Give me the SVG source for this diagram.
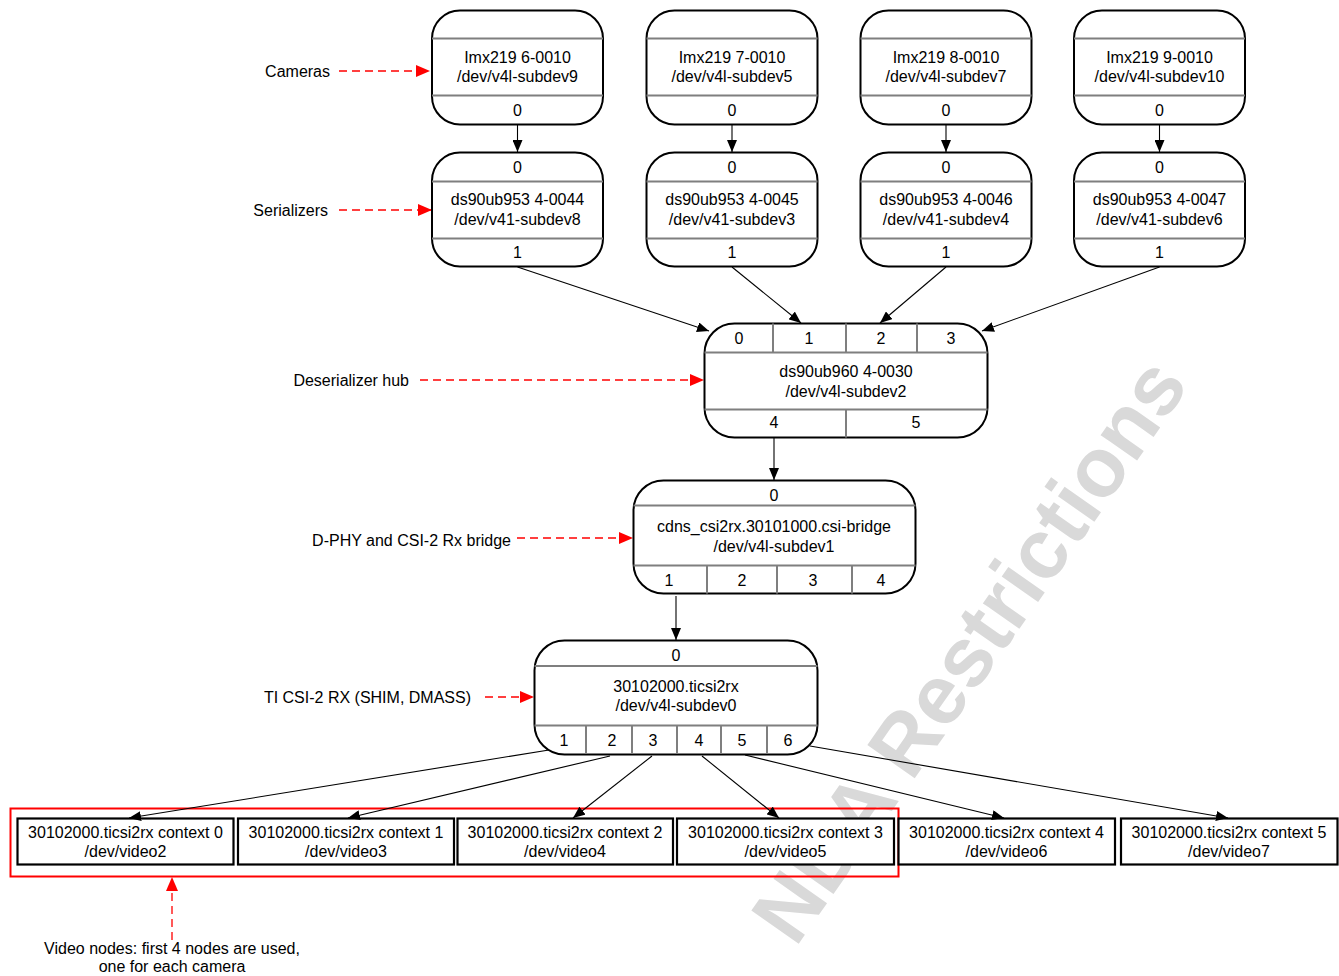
<svg xmlns="http://www.w3.org/2000/svg" width="1339" height="976" viewBox="0 0 1339 976">
<defs>
<style>
text{font-family:"Liberation Sans",Arial,sans-serif;font-size:16px;fill:#000}
.c{text-anchor:middle}
.r{text-anchor:end}
.box{fill:#fff;stroke:#000;stroke-width:2}
.div{stroke:#7f7f7f;stroke-width:2;fill:none}
.vid{fill:#fff;stroke:#000;stroke-width:2.2}
.con{stroke:#000;stroke-width:1.1;fill:none;marker-end:url(#ah)}
.red{stroke:#ff0000;stroke-width:1.3;fill:none;stroke-dasharray:8 5;marker-end:url(#rh)}
text.wm{font-family:"Liberation Sans",Arial,sans-serif;font-weight:bold;font-size:84px;fill:#d9d9d9;text-anchor:end}
</style>
<marker id="ah" viewBox="0 0 12 10" refX="12" refY="5" markerWidth="12" markerHeight="10" orient="auto" markerUnits="userSpaceOnUse"><path d="M0,0L12,5L0,10z" fill="#000"/></marker>
<marker id="rh" viewBox="0 0 14 12" refX="14" refY="6" markerWidth="14" markerHeight="12" orient="auto" markerUnits="userSpaceOnUse"><path d="M0,0L14,6L0,12z" fill="#ff0000"/></marker>
</defs>
<rect width="1339" height="976" fill="#fff"/>
<g id="watermark">
<text class="wm" transform="rotate(-55 1190 385)" x="1190" y="385">NDA Restrictions</text>
</g>

<g id="labels">
<text class="r" x="330" y="76.5">Cameras</text>
<line class="red" x1="339" y1="71" x2="430" y2="71"/>
<text class="r" x="328" y="215.5">Serializers</text>
<line class="red" x1="339" y1="210" x2="432" y2="210"/>
<text class="r" x="409" y="385.5">Deserializer hub</text>
<line class="red" x1="420" y1="380" x2="704" y2="380"/>
<text class="r" x="511" y="545.5">D-PHY and CSI-2 Rx bridge</text>
<line class="red" x1="517" y1="538" x2="633" y2="538"/>
<text class="r" x="471" y="702.5">TI CSI-2 RX (SHIM, DMASS)</text>
<line class="red" x1="485" y1="697" x2="534" y2="697"/>
<rect x="10.5" y="808.5" width="888" height="68" fill="none" stroke="#ff0000" stroke-width="2"/>
<line class="red" x1="172" y1="940" x2="172" y2="877"/>
<text class="c" x="172" y="953.5">Video nodes: first 4 nodes are used,</text>
<text class="c" x="172" y="972">one for each camera</text>
</g>

<g id="cam0">
<rect class="box" x="432" y="10.5" width="171" height="114" rx="28"/>
<path class="div" d="M432 38.5H603M432 95.5H603"/>
<text class="c" x="517.5" y="63">Imx219 6-0010</text>
<text class="c" x="517.5" y="82">/dev/v4l-subdev9</text>
<text class="c" x="517.5" y="115.5">0</text>
</g>
<g id="cam1">
<rect class="box" x="646.5" y="10.5" width="171" height="114" rx="28"/>
<path class="div" d="M646.5 38.5H817.5M646.5 95.5H817.5"/>
<text class="c" x="732" y="63">Imx219 7-0010</text>
<text class="c" x="732" y="82">/dev/v4l-subdev5</text>
<text class="c" x="732" y="115.5">0</text>
</g>
<g id="cam2">
<rect class="box" x="860.5" y="10.5" width="171" height="114" rx="28"/>
<path class="div" d="M860.5 38.5H1031.5M860.5 95.5H1031.5"/>
<text class="c" x="946" y="63">Imx219 8-0010</text>
<text class="c" x="946" y="82">/dev/v4l-subdev7</text>
<text class="c" x="946" y="115.5">0</text>
</g>
<g id="cam3">
<rect class="box" x="1074" y="10.5" width="171" height="114" rx="28"/>
<path class="div" d="M1074 38.5H1245M1074 95.5H1245"/>
<text class="c" x="1159.5" y="63">Imx219 9-0010</text>
<text class="c" x="1159.5" y="82">/dev/v4l-subdev10</text>
<text class="c" x="1159.5" y="115.5">0</text>
</g>

<g id="ser0">
<rect class="box" x="432" y="152.5" width="171" height="114" rx="28"/>
<path class="div" d="M432 181.5H603M432 238.5H603"/>
<text class="c" x="517.5" y="173">0</text>
<text class="c" x="517.5" y="205">ds90ub953 4-0044</text>
<text class="c" x="517.5" y="225">/dev/v41-subdev8</text>
<text class="c" x="517.5" y="257.5">1</text>
</g>
<g id="ser1">
<rect class="box" x="646.5" y="152.5" width="171" height="114" rx="28"/>
<path class="div" d="M646.5 181.5H817.5M646.5 238.5H817.5"/>
<text class="c" x="732" y="173">0</text>
<text class="c" x="732" y="205">ds90ub953 4-0045</text>
<text class="c" x="732" y="225">/dev/v41-subdev3</text>
<text class="c" x="732" y="257.5">1</text>
</g>
<g id="ser2">
<rect class="box" x="860.5" y="152.5" width="171" height="114" rx="28"/>
<path class="div" d="M860.5 181.5H1031.5M860.5 238.5H1031.5"/>
<text class="c" x="946" y="173">0</text>
<text class="c" x="946" y="205">ds90ub953 4-0046</text>
<text class="c" x="946" y="225">/dev/v41-subdev4</text>
<text class="c" x="946" y="257.5">1</text>
</g>
<g id="ser3">
<rect class="box" x="1074" y="152.5" width="171" height="114" rx="28"/>
<path class="div" d="M1074 181.5H1245M1074 238.5H1245"/>
<text class="c" x="1159.5" y="173">0</text>
<text class="c" x="1159.5" y="205">ds90ub953 4-0047</text>
<text class="c" x="1159.5" y="225">/dev/v41-subdev6</text>
<text class="c" x="1159.5" y="257.5">1</text>
</g>

<g id="hub">
<rect class="box" x="704.5" y="323.5" width="283" height="114" rx="30"/>
<path class="div" d="M704.5 352.5H987.5M704.5 409.5H987.5M773 323.5V352.5M846 323.5V352.5M917 323.5V352.5M846 409.5V437.5"/>
<text class="c" x="739" y="343.5">0</text>
<text class="c" x="809" y="343.5">1</text>
<text class="c" x="881" y="343.5">2</text>
<text class="c" x="951" y="343.5">3</text>
<text class="c" x="846" y="376.5">ds90ub960 4-0030</text>
<text class="c" x="846" y="396.5">/dev/v4l-subdev2</text>
<text class="c" x="774" y="427.5">4</text>
<text class="c" x="916" y="427.5">5</text>
</g>

<g id="bridge">
<rect class="box" x="633.5" y="480.5" width="282" height="113" rx="30"/>
<path class="div" d="M633.5 505.5H915.5M633.5 565.5H915.5M707 565.5V593.5M777 565.5V593.5M852 565.5V593.5"/>
<text class="c" x="774" y="500.5">0</text>
<text class="c" x="774" y="532">cdns_csi2rx.30101000.csi-bridge</text>
<text class="c" x="774" y="552">/dev/v4l-subdev1</text>
<text class="c" x="669" y="586">1</text>
<text class="c" x="742" y="586">2</text>
<text class="c" x="813" y="586">3</text>
<text class="c" x="881" y="586">4</text>
</g>

<g id="ticsi2rx">
<rect class="box" x="534.5" y="640.5" width="283" height="114" rx="30"/>
<path class="div" d="M534.5 666H817.5M534.5 725.5H817.5M586 725.5V754M632 725.5V754M677 725.5V754M721 725.5V754M767 725.5V754"/>
<text class="c" x="676" y="660.5">0</text>
<text class="c" x="676" y="691.5">30102000.ticsi2rx</text>
<text class="c" x="676" y="711">/dev/v4l-subdev0</text>
<text class="c" x="564" y="746">1</text>
<text class="c" x="612" y="746">2</text>
<text class="c" x="653" y="746">3</text>
<text class="c" x="699" y="746">4</text>
<text class="c" x="742" y="746">5</text>
<text class="c" x="788" y="746">6</text>
</g>

<g id="video2">
<rect class="vid" x="17.5" y="818.5" width="216" height="46"/>
<text class="c" x="125.5" y="838">30102000.ticsi2rx context 0</text>
<text class="c" x="125.5" y="856.5">/dev/video2</text>
</g>
<g id="video3">
<rect class="vid" x="238" y="818.5" width="216" height="46"/>
<text class="c" x="346" y="838">30102000.ticsi2rx context 1</text>
<text class="c" x="346" y="856.5">/dev/video3</text>
</g>
<g id="video4">
<rect class="vid" x="457.5" y="818.5" width="215.5" height="46"/>
<text class="c" x="565" y="838">30102000.ticsi2rx context 2</text>
<text class="c" x="565" y="856.5">/dev/video4</text>
</g>
<g id="video5">
<rect class="vid" x="677" y="818.5" width="217" height="46"/>
<text class="c" x="785.5" y="838">30102000.ticsi2rx context 3</text>
<text class="c" x="785.5" y="856.5">/dev/video5</text>
</g>
<g id="video6">
<rect class="vid" x="898.5" y="818.5" width="216.5" height="46"/>
<text class="c" x="1006.5" y="838">30102000.ticsi2rx context 4</text>
<text class="c" x="1006.5" y="856.5">/dev/video6</text>
</g>
<g id="video7">
<rect class="vid" x="1121" y="818.5" width="216.5" height="46"/>
<text class="c" x="1229" y="838">30102000.ticsi2rx context 5</text>
<text class="c" x="1229" y="856.5">/dev/video7</text>
</g>

<g id="connectors">
<line class="con" x1="517.5" y1="125" x2="517.5" y2="152"/>
<line class="con" x1="732" y1="125" x2="732" y2="152"/>
<line class="con" x1="946" y1="125" x2="946" y2="152"/>
<line class="con" x1="1159.5" y1="125" x2="1159.5" y2="152"/>
<line class="con" x1="517.5" y1="267" x2="709" y2="331"/>
<line class="con" x1="732" y1="267" x2="801" y2="323"/>
<line class="con" x1="946" y1="267" x2="880" y2="323"/>
<line class="con" x1="1159.5" y1="267" x2="982" y2="331"/>
<line class="con" x1="774" y1="438" x2="774" y2="480"/>
<line class="con" x1="676" y1="596" x2="676" y2="640"/>
<line class="con" x1="549" y1="750" x2="129" y2="818"/>
<line class="con" x1="610" y1="756" x2="348" y2="818"/>
<line class="con" x1="652" y1="756" x2="573" y2="818"/>
<line class="con" x1="702" y1="756" x2="779" y2="818"/>
<line class="con" x1="745" y1="755" x2="1004" y2="818"/>
<line class="con" x1="810" y1="746" x2="1228" y2="818"/>
</g>
</svg>
